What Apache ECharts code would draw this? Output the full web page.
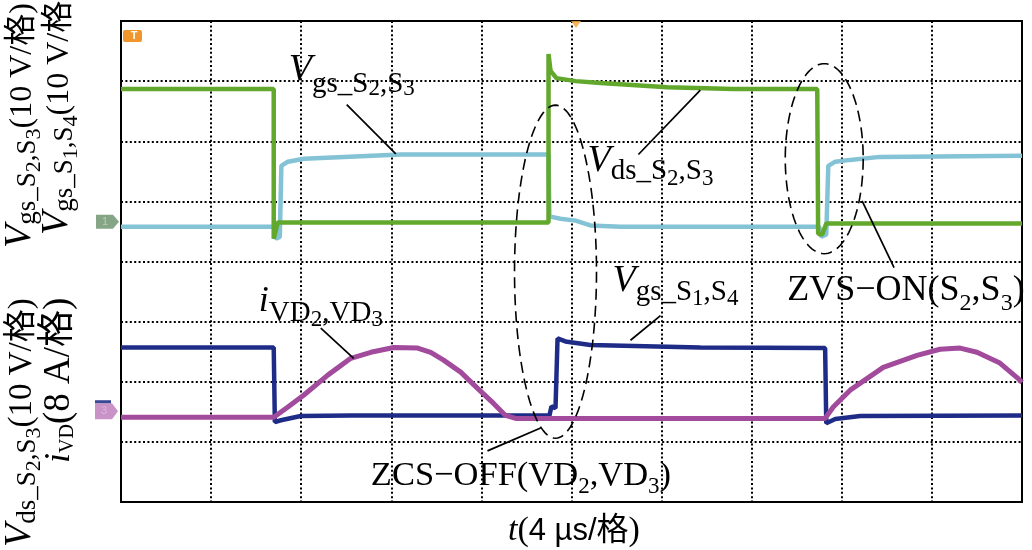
<!DOCTYPE html>
<html><head><meta charset="utf-8">
<script src="https://cdn.jsdelivr.net/npm/echarts@6/dist/echarts.min.js"></script>
<style>html,body{margin:0;padding:0;background:#fff}#c{width:1032px;height:550px}</style>
</head><body><div id="c"></div><script>
// x: time in µs (4 µs per division, 10 divisions); y: screen divisions (8 divisions)
const xRange = [0, 40];
const yRange = [0, 8];
// Vgs_S2,S3 (green)
const vgsS23 = [[0,6.87],[6.78,6.87],[6.78,4.38],[6.83,4.38],[6.96,4.65],[18.98,4.65],[18.98,7.45],[19.07,7.17],[19.33,7.05],[20.18,7.00],[21.29,6.97],[24.26,6.90],[27.18,6.87],[30.91,6.87],[30.95,4.46],[31.13,4.45],[31.31,4.63],[40,4.63]];
// Vds_S2,S3 (light blue)
const vdsS23 = [[0,4.58],[6.83,4.58],[6.87,4.38],[7.05,4.41],[7.12,5.59],[7.41,5.66],[8.12,5.71],[9.89,5.74],[12.42,5.78],[18.98,5.78],[19.02,4.75],[19.51,4.71],[20.18,4.68],[20.84,4.60],[22.17,4.58],[31.00,4.58],[31.09,4.41],[31.31,4.45],[31.40,5.59],[31.71,5.66],[32.37,5.69],[33.70,5.74],[40,5.76]];
// Vgs_S1,S4 (navy)
const vgsS14 = [[0,2.57],[6.78,2.57],[6.83,1.33],[7.10,1.36],[7.98,1.43],[10.20,1.44],[19.02,1.44],[19.11,1.59],[19.29,1.56],[19.38,2.72],[19.73,2.67],[20.84,2.61],[25.72,2.57],[31.26,2.56],[31.31,1.31],[31.71,1.38],[32.82,1.43],[40,1.44]];
// i_VD2,VD3 (magenta)
const iVD = [[0,1.41],[6.78,1.41],[7.41,1.58],[8.12,1.78],[9.18,2.11],[10.20,2.39],[11.09,2.49],[12.11,2.57],[13.17,2.56],[13.75,2.49],[14.32,2.36],[15.08,2.16],[15.83,1.89],[16.54,1.64],[17.07,1.44],[17.52,1.39],[31.26,1.39],[31.62,1.58],[32.37,1.86],[33.84,2.24],[35.34,2.44],[36.36,2.54],[37.25,2.56],[38.00,2.49],[39.02,2.31],[39.78,2.07],[40,1.99]];
// channel ground marker levels and trigger time
const ch1Level = 4.66, ch3Level = 1.51, trigLevel = 7.75, trigTime = 20.2;

const SERIF = "'Liberation Serif','Noto Sans CJK SC',serif";
const SANS = "'Liberation Sans','Noto Sans CJK SC',sans-serif";
const mctx = document.createElement('canvas').getContext('2d');
function measure(p){ mctx.font = (p.i?'italic ':'') + p.s + 'px ' + (p.f||SERIF); return mctx.measureText(p.t).width; }
function run(parts, x0, base) {
  let x = x0; const out = [];
  for (const p of parts) {
    out.push({type:'text', x: x, y: base + (p.dy||0) - 0.33*p.s, z2: 10,
      style:{text:p.t, fontSize:p.s, fontFamily:p.f||SERIF, fontStyle:p.i?'italic':'normal', fill:'#000',
        align:'left', textAlign:'left', verticalAlign:'middle', textVerticalAlign:'middle'}});
    x += measure(p) + (p.k||0);
  }
  return out;
}

// annotation texts / leaders / ellipses, anchored in data units
const annotations = [
  {kind:'label', x:7.45, y:6.97, parts:[{t:'V',s:38,i:true},{t:'gs_S',s:29,dy:11},{t:'2',s:23,dy:14},{t:',S',s:29,dy:11},{t:'3',s:23,dy:14}]},
  {kind:'leader', x:10.02, y:6.61, x2:12.20, y2:5.79},
  {kind:'label', x:20.71, y:5.46, parts:[{t:'V',s:38,i:true},{t:'ds_S',s:29,dy:7},{t:'2',s:23,dy:13},{t:',S',s:29,dy:7},{t:'3',s:23,dy:13}]},
  {kind:'leader', x:22.97, y:5.78, x2:25.72, y2:6.85},
  {kind:'label', x:29.58, y:3.32, parts:[{t:'ZVS\u2212ON(S',s:36},{t:'2',s:24,dy:9},{t:',S',s:36},{t:'3',s:24,dy:9},{t:')',s:36}]},
  {kind:'leader', x:32.90, y:5.01, x2:34.32, y2:3.90},
  {kind:'label', x:6.12, y:3.14, parts:[{t:'i',s:36,i:true},{t:'VD',s:29,dy:10},{t:'2',s:23,dy:14},{t:',VD',s:29,dy:10},{t:'3',s:23,dy:14}]},
  {kind:'leader', x:8.87, y:2.89, x2:10.33, y2:2.39},
  {kind:'label', x:21.82, y:3.47, parts:[{t:'V',s:38,i:true},{t:'gs_S',s:29,dy:9},{t:'1',s:23,dy:13},{t:',S',s:29,dy:9},{t:'4',s:23,dy:13}]},
  {kind:'leader', x:23.95, y:3.10, x2:22.62, y2:2.69},
  {kind:'label', x:11.09, y:0.25, parts:[{t:'ZCS\u2212OFF(VD',s:34.5},{t:'2',s:23,dy:8},{t:',VD',s:34.5},{t:'3',s:23,dy:8},{t:')',s:34.5}]},
  {kind:'leader', x:16.27, y:0.85, x2:18.63, y2:1.23},
  {kind:'ellipse', x:19.29, y:3.83, rx:1.82, ry:2.77},
  {kind:'ellipse', x:31.22, y:5.71, rx:1.73, ry:1.58}
];

const chart = echarts.init(document.getElementById('c'), null, {renderer:'canvas'});
const grid = {left:121, right:10, top:21, bottom:48, show:true, borderColor:'#000', borderWidth:2, backgroundColor:'transparent'};
const dotted = {show:true, lineStyle:{color:'#000', width:2, type:[2,2.4]}};
function trace(name, data, color, w){
  return {name, type:'line', data, showSymbol:false, symbol:'none', smooth:false, z:3,
    lineStyle:{color, width:w}, itemStyle:{color}, emphasis:{disabled:true}, silent:true};
}
const option = {
  animation:false,
  grid,
  xAxis:{type:'value', min:xRange[0], max:xRange[1], interval:4, axisLine:{show:false}, axisTick:{show:false}, axisLabel:{show:false}, splitLine:dotted},
  yAxis:{type:'value', min:yRange[0], max:yRange[1], interval:1, axisLine:{show:false}, axisTick:{show:false}, axisLabel:{show:false}, splitLine:dotted},
  series:[
    trace('Vds_S2,S3', vdsS23, '#84c3d6', 4.5),
    trace('Vgs_S2,S3', vgsS23, '#62a82c', 4.5),
    trace('Vgs_S1,S4', vgsS14, '#1e2c88', 4.5),
    trace('iVD', iVD, '#a24a9c', 5),
    {type:'custom', coordinateSystem:'cartesian2d', silent:true, clip:false, z:10,
     data: annotations.map(a=>[a.x,a.y]), encode:{x:0,y:1},
     renderItem(params, api){
       const a = annotations[params.dataIndex];
       const c = api.coord([a.x, a.y]);
       if (a.kind === 'label') return {type:'group', children: run(a.parts, c[0], c[1])};
       if (a.kind === 'leader') { const c2 = api.coord([a.x2, a.y2]);
         return {type:'line', shape:{x1:c[0],y1:c[1],x2:c2[0],y2:c2[1]}, style:{stroke:'#000', lineWidth:1.7}}; }
       const s = api.size([a.rx, a.ry]); const pts = [];
       for (let k=0;k<=120;k++){ const th = k/120*2*Math.PI; pts.push([c[0]+s[0]*Math.cos(th), c[1]+s[1]*Math.sin(th)]); }
       return {type:'polyline', shape:{points:pts}, style:{fill:'none', stroke:'#000', lineWidth:1.6, lineDash:[11,6]}};
     }}
  ]
};
chart.setOption(option);

const px = (x,y) => chart.convertToPixel({gridIndex:0}, [x,y]);
const p1 = px(0, ch1Level), p3 = px(0, ch3Level), pt = px(0, trigLevel), ptr = px(trigTime, yRange[1]);
const yTitles = [
  {x:33, y:248, parts:[{t:'V',s:38,i:true},{t:'gs_S',s:27,dy:4},{t:'2',s:22,dy:8},{t:',S',s:27,dy:4},{t:'3',s:22,dy:8},{t:'(10 V/格)',s:32}]},
  {x:70, y:235, parts:[{t:'V',s:38,i:true},{t:'gs_S',s:27,dy:4},{t:'1',s:22,dy:8},{t:',S',s:27,dy:4},{t:'4',s:22,dy:8},{t:'(10 V/格)',s:32}]},
  {x:33, y:547, parts:[{t:'V',s:38,i:true},{t:'ds_S',s:27,dy:4},{t:'2',s:22,dy:8},{t:',S',s:27,dy:4},{t:'3',s:22,dy:8},{t:'(10 V/格)',s:33}]},
  {x:71, y:463, parts:[{t:'i',s:36,i:true},{t:'VD',s:20,dy:3},{t:'(8 A/格)',s:37}]}
];
const graphics = yTitles.map(t => ({type:'group', x:t.x, y:t.y, rotation:Math.PI/2, children: run(t.parts, 0, 0)}));
graphics.push({type:'group', x:0, y:0, children: run([{t:'t',s:34,i:true},{t:'(',s:34},{t:'4 µs/',s:31,f:SANS},{t:'格',s:32},{t:')',s:34}], 508, 542)});
// channel markers
graphics.push({type:'group', x:p1[0], y:p1[1], children:[
  {type:'polygon', shape:{points:[[-25,-7],[-8,-7],[-2,0],[-8,7],[-25,7]]}, style:{fill:'#86a587'}},
  {type:'text', x:-16, y:0, style:{text:'1', fill:'#b8cdb8', fontSize:11, fontFamily:SANS, align:'center', verticalAlign:'middle'}}]});
graphics.push({type:'group', x:p3[0], y:p3[1], children:[
  {type:'polygon', shape:{points:[[-26,-8],[-9,-8],[-3,0],[-9,8],[-26,8]]}, style:{fill:'#c993c7'}},
  {type:'rect', shape:{x:-26,y:-11,width:16,height:3}, style:{fill:'#3a4896'}},
  {type:'text', x:-17, y:0, style:{text:'3', fill:'#dcb6da', fontSize:11, fontFamily:SANS, align:'center', verticalAlign:'middle'}}]});
graphics.push({type:'group', x:pt[0], y:pt[1], children:[
  {type:'rect', shape:{x:2,y:-6,width:19,height:12,r:2}, style:{fill:'#f0962a'}},
  {type:'text', x:13, y:0, style:{text:'T', fill:'#fff', fontSize:11, fontWeight:'bold', fontFamily:SANS, align:'center', verticalAlign:'middle'}}]});
graphics.push({type:'polygon', shape:{points:[[ptr[0]-5,ptr[1]],[ptr[0]+5,ptr[1]],[ptr[0],ptr[1]+7]]}, style:{fill:'#f5a840', opacity:0.85}});
chart.setOption({graphic: graphics});
</script></body></html>
